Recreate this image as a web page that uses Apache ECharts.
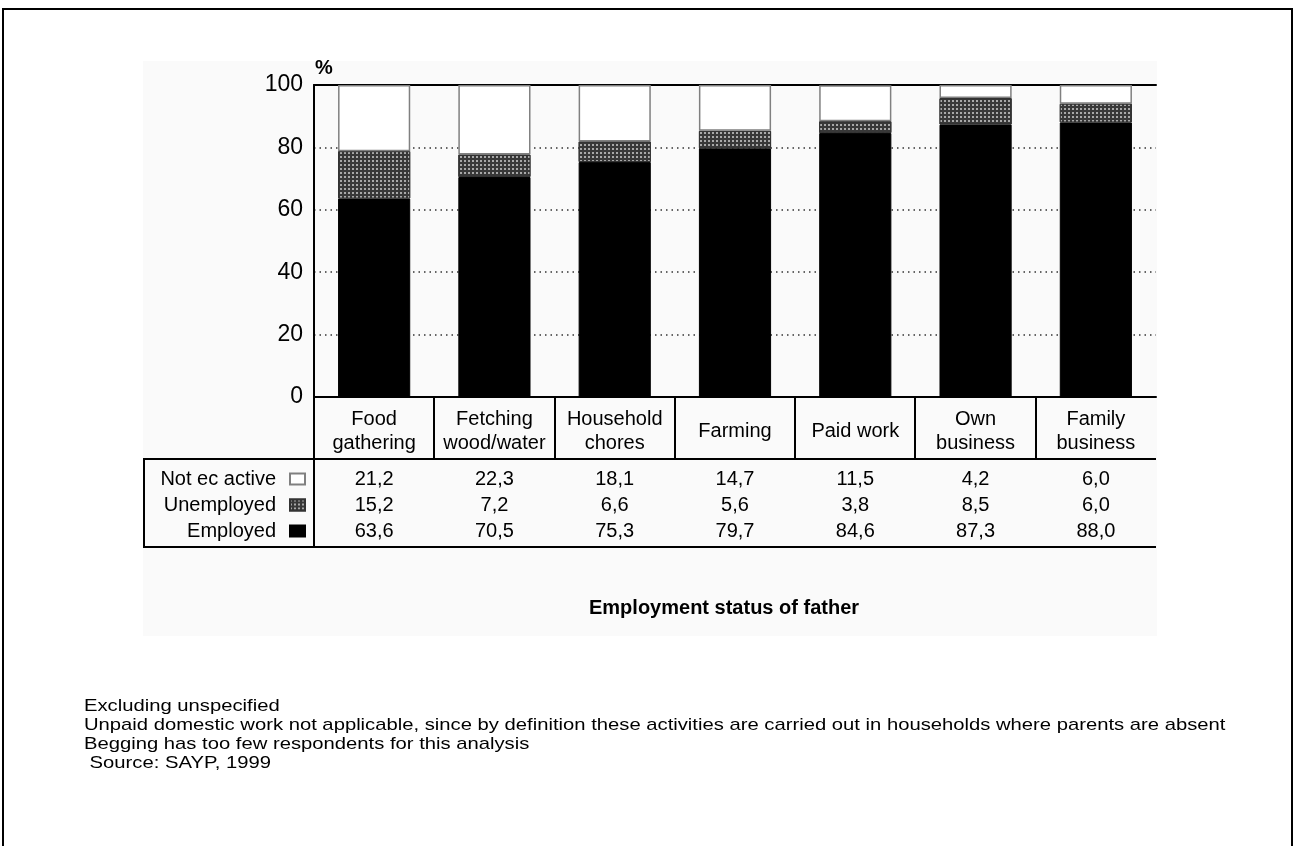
<!DOCTYPE html>
<html><head><meta charset="utf-8">
<script src="https://cdn.jsdelivr.net/npm/echarts@6/dist/echarts.min.js"></script>
<style>html,body{margin:0;padding:0;background:#fff}#c{width:1296px;height:846px}</style>
</head><body><div id="c"></div>
<script>
const categories = ['Food\ngathering','Fetching\nwood/water','Household\nchores','Farming','Paid work','Own\nbusiness','Family\nbusiness'];
const notEcActive = [21.2, 22.3, 18.1, 14.7, 11.5, 4.2, 6.0];
const unemployed  = [15.2, 7.2, 6.6, 5.6, 3.8, 8.5, 6.0];
const employed    = [63.6, 70.5, 75.3, 79.7, 84.6, 87.3, 88.0];
const yTicks = [0, 20, 40, 60, 80, 100];
const seriesNames = ['Not ec active', 'Unemployed', 'Employed'];
const xTitle = 'Employment status of father';
const footnotes = [
  'Excluding unspecified',
  'Unpaid domestic work not applicable, since by definition these activities are carried out in households where parents are absent',
  'Begging has too few respondents for this analysis',
  ' Source: SAYP, 1999'
];

const FONT = '"Liberation Sans", Arial, sans-serif';
const fmt = v => v.toFixed(1).replace('.', ',');

const chart = echarts.init(document.getElementById('c'), null, {renderer: 'canvas'});

function rowAxis(values, offset) {
  return {
    type: 'category', data: categories, position: 'bottom', offset: offset,
    axisLine: {show: false}, axisTick: {show: false}, splitLine: {show: false},
    axisLabel: {
      interval: 0, margin: 0, verticalAlign: 'middle', fontSize: 20, color: '#000', fontFamily: FONT,
      formatter: (v, i) => fmt(values[i])
    }
  };
}

const blackLine = {color: '#000', width: 2};
const lineStyle = {stroke: '#000', lineWidth: 2};

const option = {
  backgroundColor: '#fff',
  animation: false,
  textStyle: {fontFamily: FONT},
  title: {
    text: xTitle, left: 584, top: 593,
    textStyle: {fontSize: 20, fontWeight: 'bold', color: '#000', fontFamily: FONT}
  },
  legend: {
    orient: 'vertical', right: 990, top: 469, align: 'right', padding: 0,
    itemWidth: 15, itemHeight: 11, itemGap: 6, selectedMode: false,
    data: seriesNames, icon: 'rect',
    textStyle: {fontSize: 20, lineHeight: 20, color: '#000', fontFamily: FONT, padding: [0, 9, 0, 0]}
  },
  grid: {left: 314, top: 85, width: 842, height: 312, containLabel: false},
  xAxis: [
    {
      type: 'category', data: categories, position: 'bottom',
      axisLine: {show: true, lineStyle: blackLine},
      axisTick: {show: false},
      splitLine: {show: false},
      axisLabel: {interval: 0, margin: 34, verticalAlign: 'middle', fontSize: 20, lineHeight: 24, color: '#000', fontFamily: FONT}
    },
    {
      type: 'category', data: categories, position: 'top',
      axisLine: {show: true, lineStyle: blackLine},
      axisTick: {show: false}, axisLabel: {show: false}, splitLine: {show: false}
    },
    rowAxis(notEcActive, 82),
    rowAxis(unemployed, 108),
    rowAxis(employed, 134)
  ],
  yAxis: {
    type: 'value', min: yTicks[0], max: yTicks[yTicks.length - 1], interval: yTicks[1] - yTicks[0],
    name: '%', nameLocation: 'end', nameGap: 7,
    nameTextStyle: {fontSize: 20, fontWeight: 'bold', color: '#000', align: 'left', fontFamily: FONT, padding: [0, 0, 0, 1]},
    axisLine: {show: true, lineStyle: blackLine},
    axisTick: {show: false},
    axisLabel: {fontSize: 23, color: '#000', margin: 11, fontFamily: FONT},
    splitLine: {show: true, lineStyle: {color: '#333', width: 1.5, type: [1.5, 4]}}
  },
  series: [
    {
      name: seriesNames[2], type: 'bar', stack: 's', data: employed, barWidth: '60%',
      itemStyle: {color: '#000', borderColor: '#000', borderWidth: 1}
    },
    {
      name: seriesNames[1], type: 'bar', stack: 's', data: unemployed, barWidth: '60%',
      itemStyle: {
        color: '#383838', borderColor: '#333', borderWidth: 1,
        decal: {symbol: 'rect', symbolSize: 1, dashArrayX: [2, 2], dashArrayY: [2, 2], color: '#a8a8a8', rotation: 0}
      }
    },
    {
      name: seriesNames[0], type: 'bar', stack: 's', data: notEcActive, barWidth: '60%',
      itemStyle: {color: '#fff', borderColor: '#808080', borderWidth: 1.5}
    }
  ],
  graphic: [
    {id: 'panel', type: 'rect', z: -100, silent: true, shape: {x: 143, y: 61, width: 1014, height: 575}, style: {fill: '#fafafa'}},
    {id: 'frame', type: 'rect', z: 100, silent: true, shape: {x: 3, y: 9, width: 1289, height: 900}, style: {fill: null, stroke: '#000', lineWidth: 2}},
    {id: 't1', type: 'line', z: 100, silent: true, shape: {x1: 144, y1: 459, x2: 1156, y2: 459}, style: lineStyle},
    {id: 't2', type: 'line', z: 100, silent: true, shape: {x1: 144, y1: 547, x2: 1156, y2: 547}, style: lineStyle},
    {id: 't3', type: 'line', z: 100, silent: true, shape: {x1: 144, y1: 458, x2: 144, y2: 548}, style: lineStyle},
    {
      id: 'notes', type: 'text', x: 84, y: 697, scaleX: 1.19, silent: true,
      style: {text: footnotes.join('\n'), fontSize: 17, lineHeight: 19, fill: '#000', fontFamily: FONT}
    }
  ]
};
chart.setOption(option);

// category separators in the header row, placed with the category axis scale
const half = (chart.convertToPixel({xAxisIndex: 0}, 1) - chart.convertToPixel({xAxisIndex: 0}, 0)) / 2;
const seps = categories.map((c, i) => {
  const x = Math.round(chart.convertToPixel({xAxisIndex: 0}, i) - half);
  return {id: 'sep' + i, type: 'line', z: 100, silent: true,
    shape: {x1: x, y1: 397, x2: x, y2: i === 0 ? 548 : 459}, style: lineStyle};
});
chart.setOption({graphic: seps});
</script>
</body></html>
